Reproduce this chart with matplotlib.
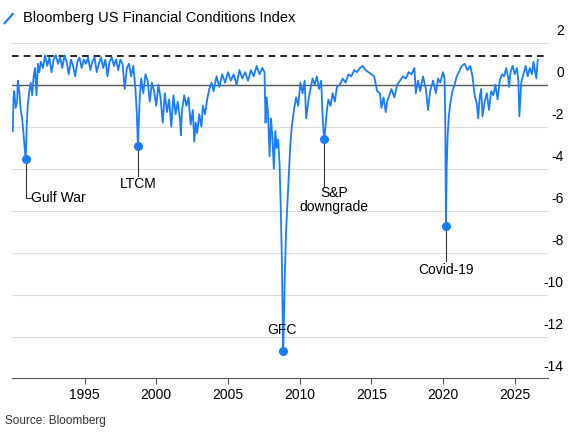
import matplotlib
matplotlib.use("Agg")
import matplotlib.pyplot as plt
from matplotlib.lines import Line2D

plt.rcParams["font.family"] = ["Liberation Sans", "DejaVu Sans"]

BLUE = "#1a7cff"

# approximate reading of the index off the reference chart
years = [
    1990.0, 1990.05, 1990.1, 1990.2, 1990.3, 1990.35, 1990.45, 1990.55, 1990.65, 1990.75, 1990.82, 1990.9,
    1990.97, 1991.05, 1991.15, 1991.25, 1991.35, 1991.45, 1991.55, 1991.65, 1991.75, 1991.85, 1991.95,
    1992.1, 1992.25, 1992.4, 1992.55, 1992.7, 1992.85, 1993.0, 1993.15, 1993.3, 1993.45, 1993.6, 1993.75,
    1993.9, 1994.05, 1994.2, 1994.35, 1994.5, 1994.65, 1994.8, 1994.95, 1995.1, 1995.25, 1995.4, 1995.55,
    1995.7, 1995.85, 1996.0, 1996.15, 1996.3, 1996.45, 1996.6, 1996.75, 1996.9, 1997.05, 1997.2, 1997.35,
    1997.5, 1997.65, 1997.8, 1997.95, 1998.1, 1998.25, 1998.4, 1998.55, 1998.65, 1998.72, 1998.78, 1998.85,
    1998.95, 1999.1, 1999.25, 1999.4, 1999.55, 1999.7, 1999.85, 2000.0, 2000.15, 2000.3, 2000.45, 2000.6,
    2000.75, 2000.9, 2001.05, 2001.2, 2001.35, 2001.5, 2001.65, 2001.72, 2001.8, 2001.95, 2002.1, 2002.25,
    2002.4, 2002.55, 2002.65, 2002.75, 2002.85, 2003.0, 2003.15, 2003.25, 2003.4, 2003.55, 2003.7, 2003.85,
    2004.0, 2004.2, 2004.4, 2004.6, 2004.8, 2005.0, 2005.2, 2005.4, 2005.6, 2005.8, 2006.0, 2006.2,
    2006.4, 2006.6, 2006.8, 2007.0, 2007.2, 2007.4, 2007.55, 2007.62, 2007.7, 2007.8, 2007.9, 2008.0,
    2008.1, 2008.2, 2008.3, 2008.4, 2008.5, 2008.6, 2008.68, 2008.75, 2008.8, 2008.85, 2008.9, 2008.95,
    2009.05, 2009.15, 2009.25, 2009.35, 2009.45, 2009.6, 2009.75, 2009.9, 2010.05, 2010.2, 2010.35,
    2010.45, 2010.6, 2010.75, 2010.9, 2011.05, 2011.2, 2011.35, 2011.5, 2011.6, 2011.66, 2011.72, 2011.8,
    2011.9, 2012.0, 2012.15, 2012.3, 2012.45, 2012.6, 2012.8, 2013.0, 2013.2, 2013.4, 2013.6, 2013.8,
    2014.0, 2014.2, 2014.4, 2014.6, 2014.8, 2015.0, 2015.2, 2015.4, 2015.6, 2015.7, 2015.85, 2016.0,
    2016.1, 2016.25, 2016.4, 2016.6, 2016.8, 2017.0, 2017.2, 2017.4, 2017.6, 2017.8, 2018.0, 2018.1,
    2018.25, 2018.4, 2018.6, 2018.8, 2018.95, 2019.1, 2019.3, 2019.5, 2019.65, 2019.8, 2020.0, 2020.1,
    2020.15, 2020.2, 2020.25, 2020.32, 2020.4, 2020.5, 2020.65, 2020.8, 2020.95, 2021.1, 2021.3, 2021.5,
    2021.7, 2021.9, 2022.05, 2022.2, 2022.35, 2022.45, 2022.55, 2022.65, 2022.75, 2022.9, 2023.05, 2023.2,
    2023.35, 2023.5, 2023.65, 2023.8, 2023.95, 2024.1, 2024.25, 2024.4, 2024.55, 2024.6, 2024.7, 2024.85,
    2025.0, 2025.15, 2025.25, 2025.32, 2025.45, 2025.6, 2025.75, 2025.9, 2026.05, 2026.2, 2026.3, 2026.4,
    2026.5, 2026.6,
]
values = [
    -2.2, -0.6, -0.3, -1.1, -0.8, 0.2, -0.3, -1.2, -1.6, -2.4, -2.9, -3.55,
    -1.9, -0.9, -0.3, 0.1, -0.5, 0.4, 0.8, -0.5, 1.0, 0.6, 1.1,
    0.8, 1.4, 0.9, 1.3, 0.6, 1.2, 1.4, 1.0, 1.3, 0.8, 1.4, 1.1,
    0.5, 1.2, 0.9, 0.4, 1.1, 1.3, 0.8, 1.2, 1.0, 1.3, 0.7, 1.1,
    1.3, 0.6, 1.0, 1.3, 0.8, 1.2, 0.4, 1.1, 1.3, 0.9, 1.2, 0.7,
    1.2, 1.0, -0.2, 0.8, 1.0, 0.4, 0.9, -0.2, -1.4, -2.9, -1.8, -0.6,
    0.3, -0.4, 0.5, 0.2, -0.8, 0.1, -0.3, -1.0, 0.0, -0.6, -1.8, -0.4,
    -1.3, -0.7, -2.0, -0.5, -1.4, -0.8, -1.6, -2.4, -1.2, -0.5, -1.0, -0.6,
    -1.9, -1.2, -2.7, -1.8, -2.3, -1.4, -2.0, -1.0, -1.4, -0.7, -0.2, 0.1,
    -0.3, 0.4, -0.1, 0.5, 0.1, 0.6, 0.2, 0.5, 0.0, 0.7, 0.3, 0.6,
    0.2, 0.7, 0.4, 0.9, 0.5, 0.8, 0.6, -1.8, -0.6, -1.4, -3.4, -1.6,
    -2.5, -4.0, -2.2, -3.0, -2.6, -3.8, -5.8, -8.0, -10.3, -12.65, -11.3, -9.5,
    -7.0, -5.6, -4.2, -2.8, -2.0, -1.2, -0.6, -1.0, 0.1, -0.4, 0.2,
    -1.6, -0.8, -0.2, 0.3, 0.0, 0.4, -0.2, 0.2, -1.5, -2.2, -2.6, -2.0,
    -1.2, -0.7, -1.0, -0.4, -0.8, -0.1, 0.0, 0.3, 0.1, 0.5, 0.4, 0.7,
    0.6, 0.8, 0.9, 0.7, 0.6, 0.5, 0.4, -0.3, -0.4, -1.1, -0.6, -1.3,
    -0.8, -0.5, -0.2, -0.6, 0.0, 0.2, 0.4, 0.3, 0.6, 0.5, 0.8, -0.4,
    0.2, -0.3, 0.4, -0.2, -1.2, -0.3, 0.2, -0.4, 0.3, 0.1, 0.6, 0.3,
    -1.5, -6.7, -4.0, -2.4, -1.5, -0.9, -0.3, 0.0, 0.4, 0.6, 0.9, 1.0,
    0.7, 0.9, 0.4, -0.5, -0.9, -1.6, -0.6, -0.2, -1.5, -0.8, -0.4, -1.2,
    -0.3, -0.5, 0.0, -0.7, 0.2, 0.5, 0.4, 0.8, 0.3, -0.1, 0.6, 0.9,
    0.5, 0.8, 0.2, -1.5, 0.1, 0.5, 0.9, 0.4, 0.8, 0.5, 1.1, 0.7,
    0.3, 1.2,
]

events = ["Gulf War", "LTCM", "GFC", "S&P\ndowngrade", "Covid-19"]
event_x = [1990.9, 1998.72, 2008.85, 2011.72, 2020.2]
event_y = [-3.55, -2.9, -12.65, -2.6, -6.7]

y_ticks = [2, 0, -2, -4, -6, -8, -10, -12, -14]
x_ticks = [1995, 2000, 2005, 2010, 2015, 2020, 2025]
DASHED_LEVEL = 1.37

fig = plt.figure(figsize=(5.76, 4.37), dpi=100)
ax = fig.add_axes([0.021, 0.135, 0.93, 0.796])

for t in y_ticks:
    if t != 0:
        ax.axhline(t, color="#dddddd", lw=0.8, zorder=0)
ax.axhline(0, color="#555555", lw=1.0, zorder=1)
ax.axhline(DASHED_LEVEL, color="black", lw=1.2, ls=(0, (4, 3)), zorder=1)

ax.plot(years, values, color=BLUE, lw=1.3, zorder=3)

# event annotations
ax.plot(event_x, event_y, "o", color=BLUE, ms=5.5, zorder=4)
ax.plot([event_x[0], event_x[0], event_x[0] + 0.35], [event_y[0], -5.4, -5.4], color="#333333", lw=0.8)
ax.text(event_x[0] + 0.4, -5.4, events[0], fontsize=10, va="center", ha="left")
ax.plot([event_x[1]] * 2, [event_y[1], -4.35], color="#333333", lw=0.8)
ax.text(event_x[1], -4.7, events[1], fontsize=10, va="center", ha="center")
ax.text(event_x[2] - 0.1, -11.65, events[2], fontsize=10, va="center", ha="center")
ax.plot([event_x[3]] * 2, [event_y[3], -4.85], color="#333333", lw=0.8)
ax.text(event_x[3] + 0.7, -5.5, events[3], fontsize=10, va="center", ha="center", linespacing=1.0)
ax.plot([event_x[4]] * 2, [event_y[4], -8.4], color="#333333", lw=0.8)
ax.text(event_x[4], -8.8, events[4], fontsize=10, va="center", ha="center")

ax.set_xlim(1989.95, 2027.3)
ax.set_ylim(-13.95, 2.6)
ax.set_xticks(x_ticks)
ax.set_xticklabels([str(x) for x in x_ticks], fontsize=10)
ax.set_yticks([])
ax.tick_params(axis="x", length=4, color="#555555", pad=3)
for s in ["top", "right", "left"]:
    ax.spines[s].set_visible(False)
ax.spines["bottom"].set_color("#555555")

for t in y_ticks:
    ax.text(1.03, t + 0.55, str(t), transform=ax.get_yaxis_transform(),
            ha="right", va="center", fontsize=10)

fig.add_artist(Line2D([0.008, 0.022], [0.947, 0.968], color=BLUE, lw=1.6))
fig.text(0.04, 0.958, "Bloomberg US Financial Conditions Index", fontsize=10.5, va="center")
fig.text(0.008, 0.037, "Source: Bloomberg", fontsize=8.5, va="center", color="#333333")

fig.savefig("out.png", dpi=100)
